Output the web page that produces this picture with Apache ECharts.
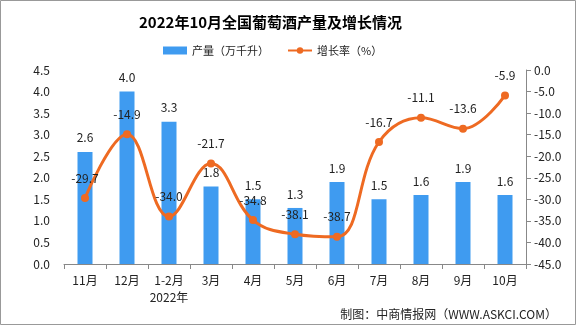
<!DOCTYPE html>
<html><head><meta charset="utf-8">
<script src="https://cdn.jsdelivr.net/npm/echarts@6/dist/echarts.min.js"></script>
<style>html,body{margin:0;padding:0;background:#fff}#c{width:576px;height:326px}</style>
</head><body><div id="c"></div>
<script>
const categories = ['11月','12月','1-2月','3月','4月','5月','6月','7月','8月','9月','10月'];
const output = [2.6, 4.0, 3.3, 1.8, 1.5, 1.3, 1.9, 1.5, 1.6, 1.9, 1.6];
const growth = [-29.7, -14.9, -34.0, -21.7, -34.8, -38.1, -38.7, -16.7, -11.1, -13.6, -5.9];
const yearLabel = '2022年';
const titleText = '2022年10月全国葡萄酒产量及增长情况';
const sourceText = '制图：中商情报网（WWW.ASKCI.COM）';

const font = '"Noto Sans CJK SC", "DejaVu Sans", sans-serif';
const chart = echarts.init(document.getElementById('c'));
chart.setOption({
  animation: false,
  textStyle: {fontFamily: font},
  title: {text: titleText, left: 134, top: 10, textStyle: {fontSize: 15, fontWeight: 'bold', color: '#000', fontFamily: font}},
  legend: {
    top: 40, left: 158, itemGap: 18, itemWidth: 24, itemHeight: 8,
    textStyle: {fontSize: 11, color: '#222'},
    data: [{name: '产量（万千升）', icon: 'rect'}, {name: '增长率（%）'}]
  },
  grid: {left: 64, right: 50, top: 70, bottom: 62},
  xAxis: {
    type: 'category', data: categories,
    axisLine: {lineStyle: {color: '#888'}},
    axisTick: {show: true, lineStyle: {color: '#888'}},
    axisLabel: {
      color: '#222', fontSize: 12, margin: 8, interval: 0, lineHeight: 17,
      formatter: (v, i) => i === 2 ? v + '\n' + yearLabel : v
    }
  },
  yAxis: [
    {type: 'value', min: 0, max: 4.5, interval: 0.5,
     axisLine: {show: false}, axisTick: {show: false}, splitLine: {show: false},
     axisLabel: {color: '#222', fontSize: 12, formatter: v => v.toFixed(1), margin: 14}},
    {type: 'value', min: -45, max: 0, interval: 5,
     axisLine: {show: true, lineStyle: {color: '#888'}}, axisTick: {show: true, lineStyle: {color: '#888'}},
     splitLine: {show: false},
     axisLabel: {color: '#222', fontSize: 12, formatter: v => v.toFixed(1), margin: 8}}
  ],
  series: [
    {name: '产量（万千升）', type: 'bar', data: output, barWidth: 15,
     itemStyle: {color: '#3F9BF0'},
     label: {show: true, position: 'top', color: '#222', fontSize: 12, distance: 8, formatter: p => p.value.toFixed(1)}},
    {name: '增长率（%）', type: 'line', yAxisIndex: 1, data: growth, smooth: 0.4,
     symbol: 'circle', symbolSize: 8,
     lineStyle: {color: '#EE6A22', width: 3}, itemStyle: {color: '#EE6A22'},
     label: {show: true, position: 'top', color: '#222', fontSize: 12, distance: 10, formatter: p => p.value.toFixed(1)}}
  ],
  graphic: [
    {type: 'text', right: 19, bottom: 6, style: {text: sourceText, fontSize: 12, fill: '#222', fontFamily: font}},
    {type: 'rect', shape: {x: 0.5, y: 0.5, width: 575, height: 324}, style: {fill: 'none', stroke: '#999', lineWidth: 1}}
  ]
});
</script></body></html>
